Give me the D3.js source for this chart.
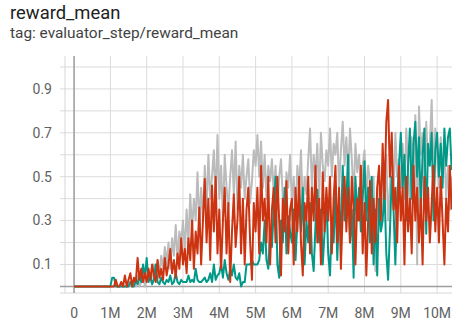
<!DOCTYPE html>
<html><head><meta charset="utf-8">
<script src="https://cdn.jsdelivr.net/npm/d3@7"></script>
<style>
html,body{margin:0;padding:0;background:#fff;}
svg{display:block;font-family:Roboto,"Noto Sans",sans-serif;}
</style></head>
<body><svg id="chart" width="464" height="326"></svg>
<script>
const title = "reward_mean";
const subtitle = "tag: evaluator_step/reward_mean";
const stepInterval = 50000; // one evaluation every 50K steps
const xTickValues = [0,1e6,2e6,3e6,4e6,5e6,6e6,7e6,8e6,9e6,10e6];
const xTickLabels = ["0","1M","2M","3M","4M","5M","6M","7M","8M","9M","10M"];
const yGridValues = [0.1,0.2,0.3,0.4,0.5,0.6,0.7,0.8,0.9,1.0];
const yTickValues = [0.1,0.3,0.5,0.7,0.9];
const yTickLabels = ["0.1","0.3","0.5","0.7","0.9"];

const grayRun = [
0,0,0,0,0,0,0,0,0,0,
0,0,0,0,0,0,0,0,0,0,
0,0,0,0,0,0,0.02,0,0,0,
0,0.02,0,0.03,0,0.05,0,0.02,0.06,0,
0.03,0.08,0.02,0.05,0.1,0.04,0.12,0.05,0.14,0.08,
0.18,0.1,0.2,0.08,0.22,0.14,0.28,0.12,0.25,0.2,
0.3,0.15,0.35,0.2,0.42,0.25,0.4,0.3,0.52,0.28,
0.45,0.3,0.55,0.35,0.6,0.4,0.5,0.62,0.38,0.69,
0.4,0.55,0.3,0.6,0.45,0.35,0.5,0.62,0.42,0.66,
0.35,0.55,0.45,0.6,0.4,0.5,0.58,0.38,0.48,0.62,
0.55,0.69,0.5,0.66,0.45,0.6,0.4,0.55,0.48,0.58,
0.42,0.55,0.35,0.5,0.58,0.4,0.3,0.52,0.45,0.6,
0.38,0.5,0.3,0.55,0.45,0.62,0.35,0.5,0.42,0.58,
0.72,0.45,0.6,0.5,0.65,0.4,0.7,0.55,0.48,0.62,
0.55,0.72,0.5,0.65,0.6,0.7,0.45,0.62,0.75,0.55,
0.68,0.5,0.72,0.58,0.4,0.65,0.52,0.6,0.45,0.55,
0.62,0.4,0.55,0.48,0.3,0.5,0.07,0.45,0.28,0.42,
0.55,0.35,0.6,0.3,0.45,0.62,0.4,0.7,0.5,0.58,
0.45,0.65,0.4,0.72,0.55,0.3,0.68,0.5,0.78,0.1,
0.82,0.6,0.7,0.4,0.75,0.55,0.65,0.85,0.5,0.72,
0.6,0.45,0.68,0.5,0.62,0.4,0.55,0.35,0.5
];
const tealRun = [
0,0,0,0,0,0,0,0,0,0,
0,0,0,0,0,0,0,0,0,0,
0,0.04,0.04,0,0,0,0,0,0,0,
0,0.02,0,0,0.03,0.01,0.05,0.02,0.1,0.04,
0.13,0.02,0.06,0.01,0.03,0.1,0.02,0.01,0.04,0.02,
0.01,0.03,0.02,0.05,0.01,0.02,0.06,0.02,0.01,0.03,
0.02,0.02,0.02,0.05,0.02,0.03,0.02,0.08,0.03,0.02,
0.02,0.03,0.04,0.02,0.03,0.06,0.02,0.1,0.03,0.05,
0.06,0.1,0.04,0.12,0.06,0.03,0.08,0.05,0.1,0.04,
0.03,0.06,0,0.02,0.02,0.1,0.1,0.1,0.12,0.1,
0.1,0.1,0.12,0.2,0.15,0.3,0.12,0.08,0.25,0.18,
0.35,0.5,0.1,0.04,0.3,0.2,0.45,0.15,0.32,0.25,
0.2,0.35,0.12,0.3,0.4,0.25,0.45,0.1,0.3,0.2,
0.38,0.15,0.07,0.28,0.44,0.2,0.35,0.1,0.25,0.4,
0.15,0.05,0.3,0.2,0.45,0.12,0.35,0.25,0.55,0.3,
0.4,0.6,0.2,0.35,0.04,0.5,0.3,0.45,0.25,0.4,
0.57,0.3,0.45,0.2,0.5,0.1,0.35,0.05,0.4,0.25,
0.3,0.45,0.15,0.03,0.25,0.5,0.35,0.1,0.4,0.55,
0.7,0.45,0.6,0.3,0.55,0.72,0.4,0.65,0.75,0.5,
0.68,0.35,0.6,0.72,0.24,0.65,0.55,0.7,0.3,0.62,
0.7,0.5,0.65,0.45,0.72,0.55,0.68,0.72,0.53
];
const redRun = [
0,0,0,0,0,0,0,0,0,0,
0,0,0,0,0,0,0,0,0,0,
0,0,0,0.03,0,0,0.02,0,0.05,0,
0.03,0.06,0,0.04,0.02,0.13,0.03,0.08,0.02,0.06,
0.02,0.08,0.03,0.1,0.05,0.02,0.12,0.04,0.08,0.03,
0.13,0.05,0.1,0.17,0.06,0.12,0.04,0.15,0.08,0.22,
0.1,0.17,0.06,0.22,0.12,0.3,0.08,0.25,0.15,0.36,
0.1,0.3,0.49,0.2,0.4,0.12,0.46,0.25,0.5,0.15,
0.35,0.08,0.3,0.45,0.15,0.38,0.02,0.25,0.42,0.18,
0.3,0.5,0.15,0.4,0.1,0.35,0.45,0.2,0.03,0.38,
0.25,0.45,0.15,0.55,0.3,0.4,0.2,0.5,0.1,0.35,
0.45,0.2,0.5,0.3,0.05,0.4,0.25,0.48,0.15,0.35,
0.4,0.1,0.45,0.25,0.5,0.2,0.05,0.38,0.3,0.5,
0.15,0.45,0.3,0.55,0.2,0.4,0.1,0.52,0.25,0.45,
0.3,0.5,0.15,0.4,0.55,0.2,0.45,0.08,0.35,0.5,
0.25,0.45,0.2,0.5,0.35,0.1,0.4,0.3,0.55,0.15,
0.38,0.05,0.3,0.48,0.15,0.4,0.2,0.45,0.55,0.3,
0.65,0.4,0.75,0.85,0.5,0.7,0.35,0.45,0.2,0.55,
0.3,0.45,0.1,0.5,0.25,0.4,0.15,0.55,0.3,0.45,
0.2,0.4,0.1,0.5,0.3,0.45,0.2,0.38,0.55,0.25,
0.45,0.2,0.5,0.3,0.1,0.4,0.25,0.55,0.35
];
const seriesColors = ["#bbbbbb","#009988","#cc3311"];

const svg = d3.select("#chart");
const plotLeft = 65, plotRight = 452, plotTop = 56, plotBottom = 293;
const x = d3.scaleLinear().domain([-0.25e6, 10.41e6]).range([plotLeft, plotRight]);
const y = d3.scaleLinear().domain([-0.03, 1.05]).range([plotBottom, plotTop]);

svg.append("text").attr("x", 10).attr("y", 19).attr("font-size", 18.4).attr("fill", "#212121").text(title);
svg.append("text").attr("x", 10).attr("y", 38).attr("font-size", 15.4).attr("fill", "#424242").text(subtitle);

// grid
const grid = svg.append("g");
grid.selectAll(".vg").data(xTickValues).join("line")
  .attr("x1", d => x(d)).attr("x2", d => x(d)).attr("y1", plotTop).attr("y2", plotBottom)
  .attr("stroke", "#dcdcdc").attr("stroke-width", 1);
grid.selectAll(".hg").data(yGridValues).join("line")
  .attr("x1", plotLeft - 5).attr("x2", plotRight).attr("y1", d => y(d)).attr("y2", d => y(d))
  .attr("stroke", "#dcdcdc").attr("stroke-width", 1);
// frame
grid.append("line").attr("x1", plotLeft).attr("x2", plotLeft).attr("y1", plotTop).attr("y2", plotBottom).attr("stroke", "#d6d6d6");
grid.append("line").attr("x1", plotLeft - 5).attr("x2", plotRight).attr("y1", plotBottom).attr("y2", plotBottom).attr("stroke", "#d6d6d6");
// zero axes
grid.append("line").attr("x1", x(0)).attr("x2", x(0)).attr("y1", plotTop).attr("y2", plotBottom).attr("stroke", "#9e9e9e").attr("stroke-width", 1.5);
grid.append("line").attr("x1", plotLeft - 5).attr("x2", plotRight).attr("y1", y(0)).attr("y2", y(0)).attr("stroke", "#9e9e9e").attr("stroke-width", 1.5);

// tick labels
svg.append("g").selectAll("text").data(xTickValues).join("text")
  .attr("x", d => x(d)).attr("y", 318).attr("text-anchor", "middle")
  .attr("font-size", 14).attr("fill", "#616161").text((d, i) => xTickLabels[i]);
svg.append("g").selectAll("text").data(yTickValues).join("text")
  .attr("x", 52).attr("y", d => y(d)).attr("dy", "0.35em").attr("text-anchor", "end")
  .attr("font-size", 14).attr("fill", "#616161").text((d, i) => yTickLabels[i]);

// lines
const line = d3.line().x((d, i) => x(i * stepInterval)).y(d => y(d));
svg.append("clipPath").attr("id", "clip").append("rect")
  .attr("x", plotLeft).attr("y", plotTop).attr("width", plotRight - plotLeft).attr("height", plotBottom - plotTop);
const lg = svg.append("g").attr("clip-path", "url(#clip)");
[grayRun, tealRun, redRun].forEach((s, k) => {
  lg.append("path").datum(s).attr("d", line).attr("fill", "none")
    .attr("stroke", seriesColors[k]).attr("stroke-width", 2).attr("stroke-linejoin", "round");
});
</script></body></html>
